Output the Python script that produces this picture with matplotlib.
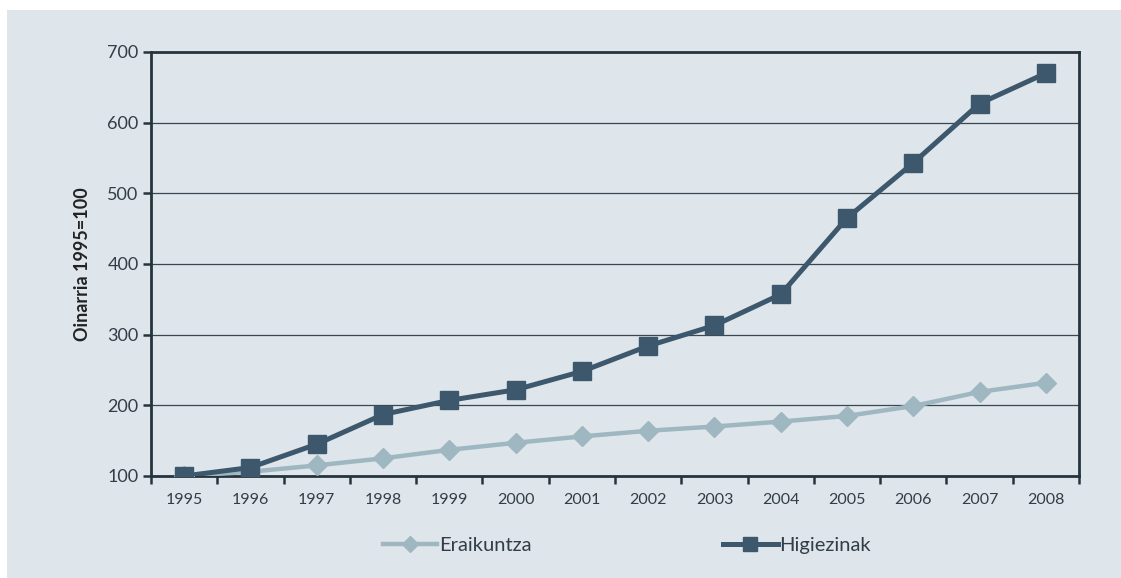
import matplotlib.pyplot as plt
from matplotlib.patches import Rectangle
from matplotlib.ticker import FixedLocator

years = ["1995", "1996", "1997", "1998", "1999", "2000", "2001",
         "2002", "2003", "2004", "2005", "2006", "2007", "2008"]
eraikuntza = [100, 106, 115, 125, 137, 147, 156, 164, 170, 177, 185, 199, 219, 232]
higiezinak = [100, 112, 145, 187, 207, 222, 248, 284, 313, 357, 465, 543, 627, 670]

bg = "#dee6ec"
dark = "#3d586c"
light = "#9fb7c1"
txt = "#333d45"

plt.rcParams["font.family"] = ["Lato", "DejaVu Sans"]

fig = plt.figure(figsize=(11.21, 5.78), dpi=100)
fig.patch.set_facecolor("white")
fig.patches.append(Rectangle((7 / 1121, 0), 1, (578 - 10) / 578,
                             transform=fig.transFigure, facecolor=bg,
                             edgecolor="none", zorder=-1))

ax = fig.add_axes([151 / 1121, 1 - 476 / 578, (1079 - 151) / 1121, (476 - 52) / 578])
ax.set_facecolor(bg)

x = list(range(len(years)))
ax.plot(x, eraikuntza, color=light, lw=3.2, marker="D", ms=10,
        mec=light, label="Eraikuntza", zorder=3)
ax.plot(x, higiezinak, color=dark, lw=3.6, marker="s", ms=13,
        mec=dark, label="Higiezinak", zorder=4)

ax.set_xlim(-0.5, len(years) - 0.5)
ax.set_ylim(100, 700)
ax.set_yticks(range(100, 701, 100))
ax.yaxis.grid(True, color="#3a4650", lw=0.9)
ax.set_axisbelow(True)

ax.set_xticks(x)
ax.set_xticklabels(years)
ax.xaxis.set_minor_locator(FixedLocator([i - 0.5 for i in range(len(years) + 1)]))
ax.tick_params(axis="x", which="major", length=0, pad=12, labelsize=11.5, labelcolor=txt)
ax.tick_params(axis="x", which="minor", length=6, width=1.8, color="#26343e", direction="out")
ax.tick_params(axis="y", length=6, width=1.8, color="#26343e", labelsize=13, labelcolor=txt, pad=3)

for s in ax.spines.values():
    s.set_color("#26343e")
    s.set_linewidth(2)

ax.set_ylabel("Oinarria 1995=100", fontsize=13, fontweight="bold", color="#222", labelpad=12)

ax.legend(loc="upper center", bbox_to_anchor=(0.513, -0.1), ncol=2, frameon=False,
          fontsize=14.5, handlelength=2.7, handletextpad=0.1, columnspacing=9.5,
          markerscale=0.8, labelcolor=txt)

fig.savefig("out.png", dpi=100, facecolor=fig.get_facecolor())
